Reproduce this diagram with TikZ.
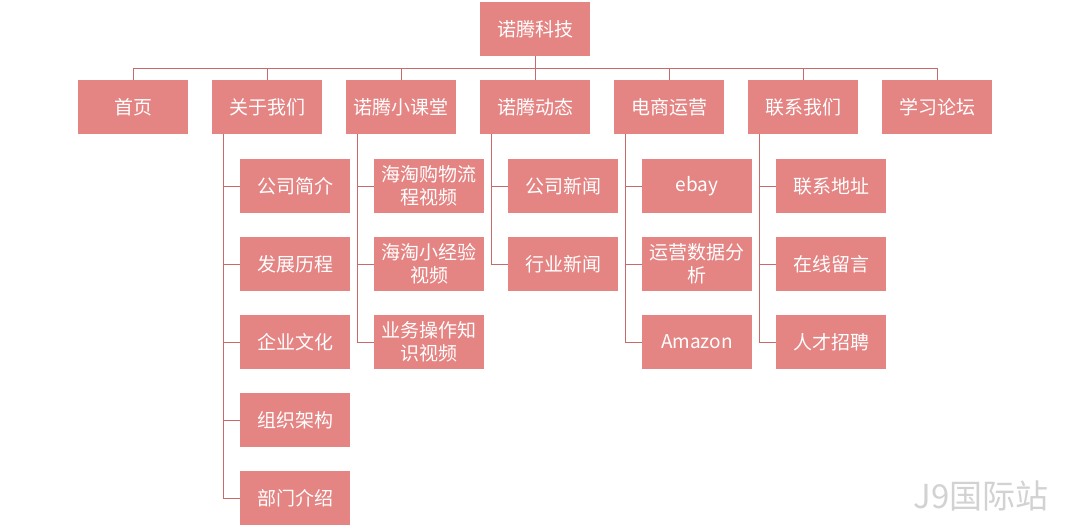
\documentclass[tikz,border=0pt]{standalone}
\usepackage{fontspec}
\setmainfont{Noto Sans CJK SC}
\definecolor{boxfill}{HTML}{E48483}
\definecolor{linkcol}{HTML}{C86A69}
\tikzset{
  box/.style={fill=boxfill, text=white, minimum width=110pt, minimum height=54pt,
    inner sep=1pt, align=center, font=\fontsize{19}{23}\selectfont, text width=108pt},
  link/.style={draw=linkcol, line width=0.9pt}
}
\begin{document}
\begin{tikzpicture}[x=1pt,y=-1pt]
  \useasboundingbox (0,0) rectangle (1070,529);
  \node[box] (root) at (535,29) {诺腾科技};
  \coordinate (bus) at (535,68);
  \foreach \n/\t [count=\i from 0] in {home/首页,about/关于我们,course/诺腾小课堂,news/诺腾动态,shop/电商运营,contact/联系我们,forum/学习论坛}{
    \node[box] (\n) at (133+134*\i,107) {\t};
    \draw[link] (\n.north) -- (133+134*\i,68);
  }
  \draw[link] (133,68) -- (937,68);
  \draw[link] (root.south) -- (bus);
  % children
  \foreach \p/\list in {about/{公司简介,发展历程,企业文化,组织架构,部门介绍},
      course/{海淘购物流\\程视频,海淘小经验\\视频,业务操作知\\识视频},
      news/{公司新闻,行业新闻},
      shop/{ebay,运营数据分\\析,Amazon},
      contact/{联系地址,在线留言,人才招聘}}{
    \foreach \t [count=\j] in \list {
      \node[box, anchor=west] (\p-\j) at ([xshift=28pt]\p.west |- 0,{108+78*\j}) {\t};
      \draw[link] ([xshift=12pt]\p.south west) |- (\p-\j.west);
    }
  }
  \node[text=gray!35, font=\fontsize{33}{33}\selectfont] (mark) at (981,496) {J9国际站};
\end{tikzpicture}
\end{document}
